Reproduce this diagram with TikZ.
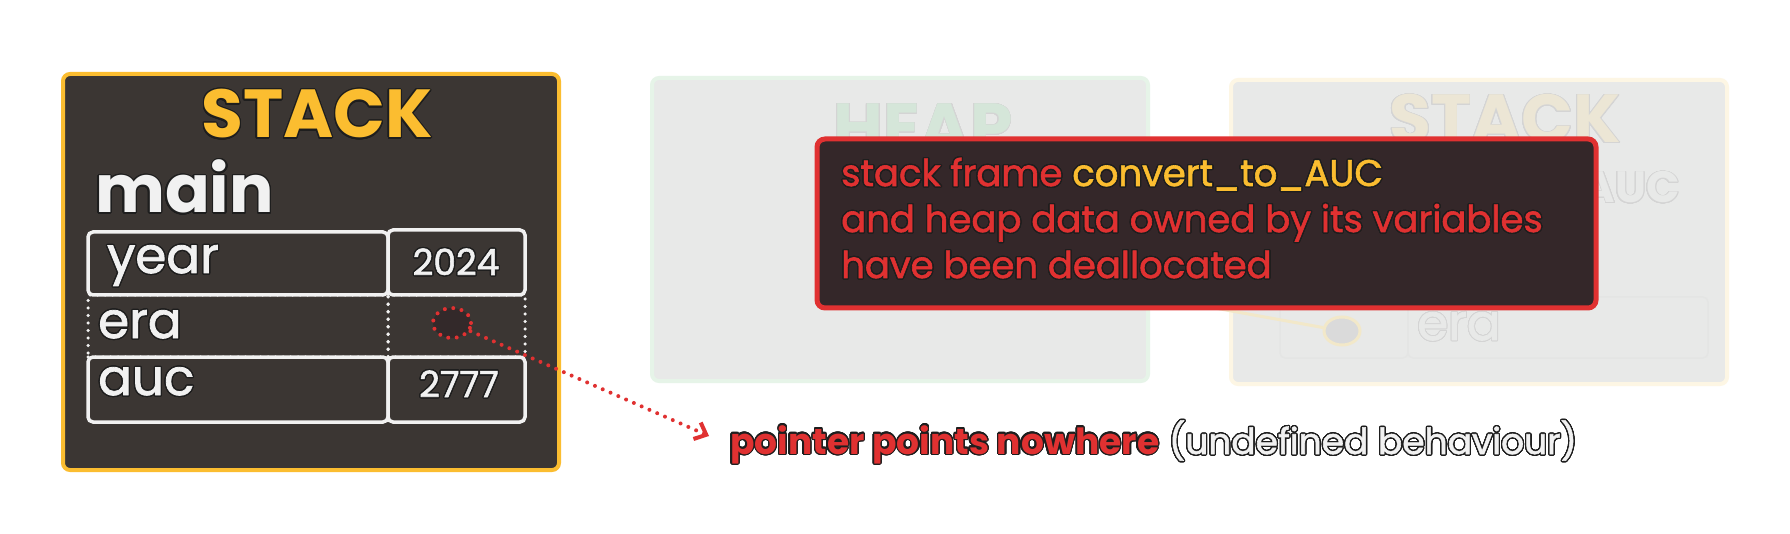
\documentclass[tikz,border=0pt]{standalone}
\usepackage{fontspec}
\setmainfont{Poppins}
\newfontfamily\pmed{Poppins}[FakeBold=1.6]
\usepackage{contour}
\contourlength{1.3pt}
\contournumber{24}
\usetikzlibrary{arrows.meta,shapes.geometric}
\definecolor{boxdark}{HTML}{3B3633}
\definecolor{cyellow}{HTML}{FBBD30}
\definecolor{cred}{HTML}{E03131}
\definecolor{cwhite}{HTML}{F1F1F1}
\definecolor{redboxfill}{HTML}{342729}
\definecolor{ellfill}{HTML}{33292A}
\definecolor{fadefill}{HTML}{E8E9E8}
\definecolor{heapborder}{HTML}{E6F4E8}
\definecolor{stackborder}{HTML}{FDF6E4}
\definecolor{heaptext}{HTML}{D5E6D9}
\definecolor{stacktext}{HTML}{ECE6D5}
\definecolor{fadeline}{HTML}{D4D4D4}
\definecolor{fadecellline}{HTML}{E4E5E4}
\definecolor{fadeell}{HTML}{DADADA}
\definecolor{fadeellline}{HTML}{F2E8C9}
\definecolor{outl}{HTML}{1E1E1E}
\begin{document}
\begin{tikzpicture}[x=1pt,y=-1pt,
  box/.style={anchor=north west,inner sep=0pt,outer sep=0pt,rounded corners=7pt},
  stackframe/.style={box,fill=boxdark,draw=cyellow,line width=4pt},
  fadeframe/.style={box,fill=fadefill,line width=4pt},
  cell/.style={box,draw=cwhite,line width=3.5pt,rounded corners=5pt},
  dotcell/.style={box,draw=cwhite,line width=3.5pt,rounded corners=0pt,dash pattern=on 0pt off 7.5pt,line cap=round},
  fadecell/.style={box,draw=fadecellline,line width=1.5pt,rounded corners=5pt},
  reddots/.style={draw=cred,line width=4pt,dash pattern=on 0pt off 8.5pt,line cap=round},
  title/.style={anchor=base,inner sep=0pt,font=\fontsize{68}{68}\selectfont\bfseries},
  lbl/.style={anchor=base west,inner sep=0pt,text=cwhite,font=\fontsize{50}{50}\pmed},
  num/.style={anchor=base,inner sep=0pt,text=cwhite,font=\fontsize{36}{36}\pmed},
  msgbox/.style={box,fill=redboxfill,draw=cred,line width=5pt,rounded corners=8pt},
  msg/.style={anchor=base west,inner sep=0pt,text=cred,font=\fontsize{37}{46}\pmed},
  note/.style={anchor=base west,inner sep=0pt,font=\fontsize{36}{36}\selectfont},
  fadetxt/.style={inner sep=0pt,text=fadefill}
]
\useasboundingbox (0,0) rectangle (1790,534);
\fill[white] (0,0) rectangle (1790,534);

% ---------- left: live stack ----------
\node[stackframe,minimum width=496pt,minimum height=396pt] (stk) at (63,74) {};
\node[title,text=cyellow] (stkT) at (317,138) {\contour{outl}{STACK}};
\node[anchor=base west,inner sep=0pt,text=cwhite,font=\fontsize{66}{66}\selectfont\bfseries] (mainT) at (95,213) {\contour{outl}{main}};

\node[dotcell,minimum width=300pt,minimum height=62pt] (eraK) at (88,295) {};
\node[dotcell,minimum width=137pt,minimum height=62pt] (eraV) at (388,295) {};
\node[cell,minimum width=300pt,minimum height=63pt] (yearK) at (88,232) {};
\node[cell,minimum width=137pt,minimum height=65pt] (yearV) at (388,230) {};
\node[cell,minimum width=300pt,minimum height=65pt] (aucK) at (88,357) {};
\node[cell,minimum width=137pt,minimum height=65pt] (aucV) at (388,357) {};

\node[lbl] (yearT) at (107,273) {\contour{outl}{year}};
\node[lbl] (eraT) at (98,338) {\contour{outl}{era}};
\node[lbl] (aucT) at (98,395) {\contour{outl}{auc}};
\node[num] (yearN) at (456,275) {\contour{outl}{2024}};
\node[num] (aucN) at (459,397) {\contour{outl}{2777}};

\node[ellipse,reddots,fill=ellfill,minimum width=38pt,minimum height=30pt,inner sep=0pt] (ptr) at (452,323) {};
\coordinate (tip) at (709,436);
\draw[reddots,-{Straight Barb[length=10pt,width=18pt]}] (ptr) -- (tip);

\node[note] (noteT) at (730,454) {{\bfseries\color{cred}\contour{outl}{pointer points nowhere}} {\pmed\color{cwhite}\contour{outl}{(undefined behaviour)}}};

% ---------- faded: heap ----------
\node[fadeframe,draw=heapborder,minimum width=496pt,minimum height=303pt] (heap) at (652,78) {};
\node[title,text=heaptext] (heapT) at (923,152) {\contourlength{0.8pt}\contour{fadeline}{HEAP}};

% ---------- faded: deallocated stack frame ----------
\node[fadeframe,draw=stackborder,minimum width=496pt,minimum height=304pt] (stk2) at (1231,80) {};
\node[title,text=stacktext] (stk2T) at (1505,143) {\contourlength{0.8pt}\contour{fadeline}{STACK}};
\node[fadetxt,anchor=base east,font=\fontsize{44}{44}\selectfont\bfseries] (fnT) at (1680,203) {\contourlength{0.8pt}\contour{fadeline}{convert\_to\_AUC}};
\node[fadecell,minimum width=128pt,minimum height=61pt] (row2a) at (1280,297) {};
\node[fadecell,minimum width=300pt,minimum height=61pt] (row2b) at (1408,297) {};
\node[fadetxt,anchor=base west,font=\fontsize{50}{50}\pmed] (era2T) at (1417,340) {\contourlength{0.8pt}\contour{fadeline}{era}};
\coordinate (ptr2end) at (1215,308);
\node[ellipse,draw=fadeellline,fill=fadeell,line width=3pt,minimum width=36pt,minimum height=28pt,inner sep=0pt] (ptr2) at (1342,331) {};
\draw[fadeellline,line width=3pt] (ptr2) -- (ptr2end);

% ---------- message box ----------
\node[msgbox,minimum width=779pt,minimum height=169pt] (msgbox) at (817,139) {};
\node[msg] (msgA) at (841,186) {\contour{outl}{stack frame} {\color{cyellow}\contour{outl}{convert\_to\_AUC}}};
\node[msg] (msgB) at (841,232) {\contour{outl}{and heap data owned by its variables}};
\node[msg] (msgC) at (841,278) {\contour{outl}{have been deallocated}};
\end{tikzpicture}
\end{document}
